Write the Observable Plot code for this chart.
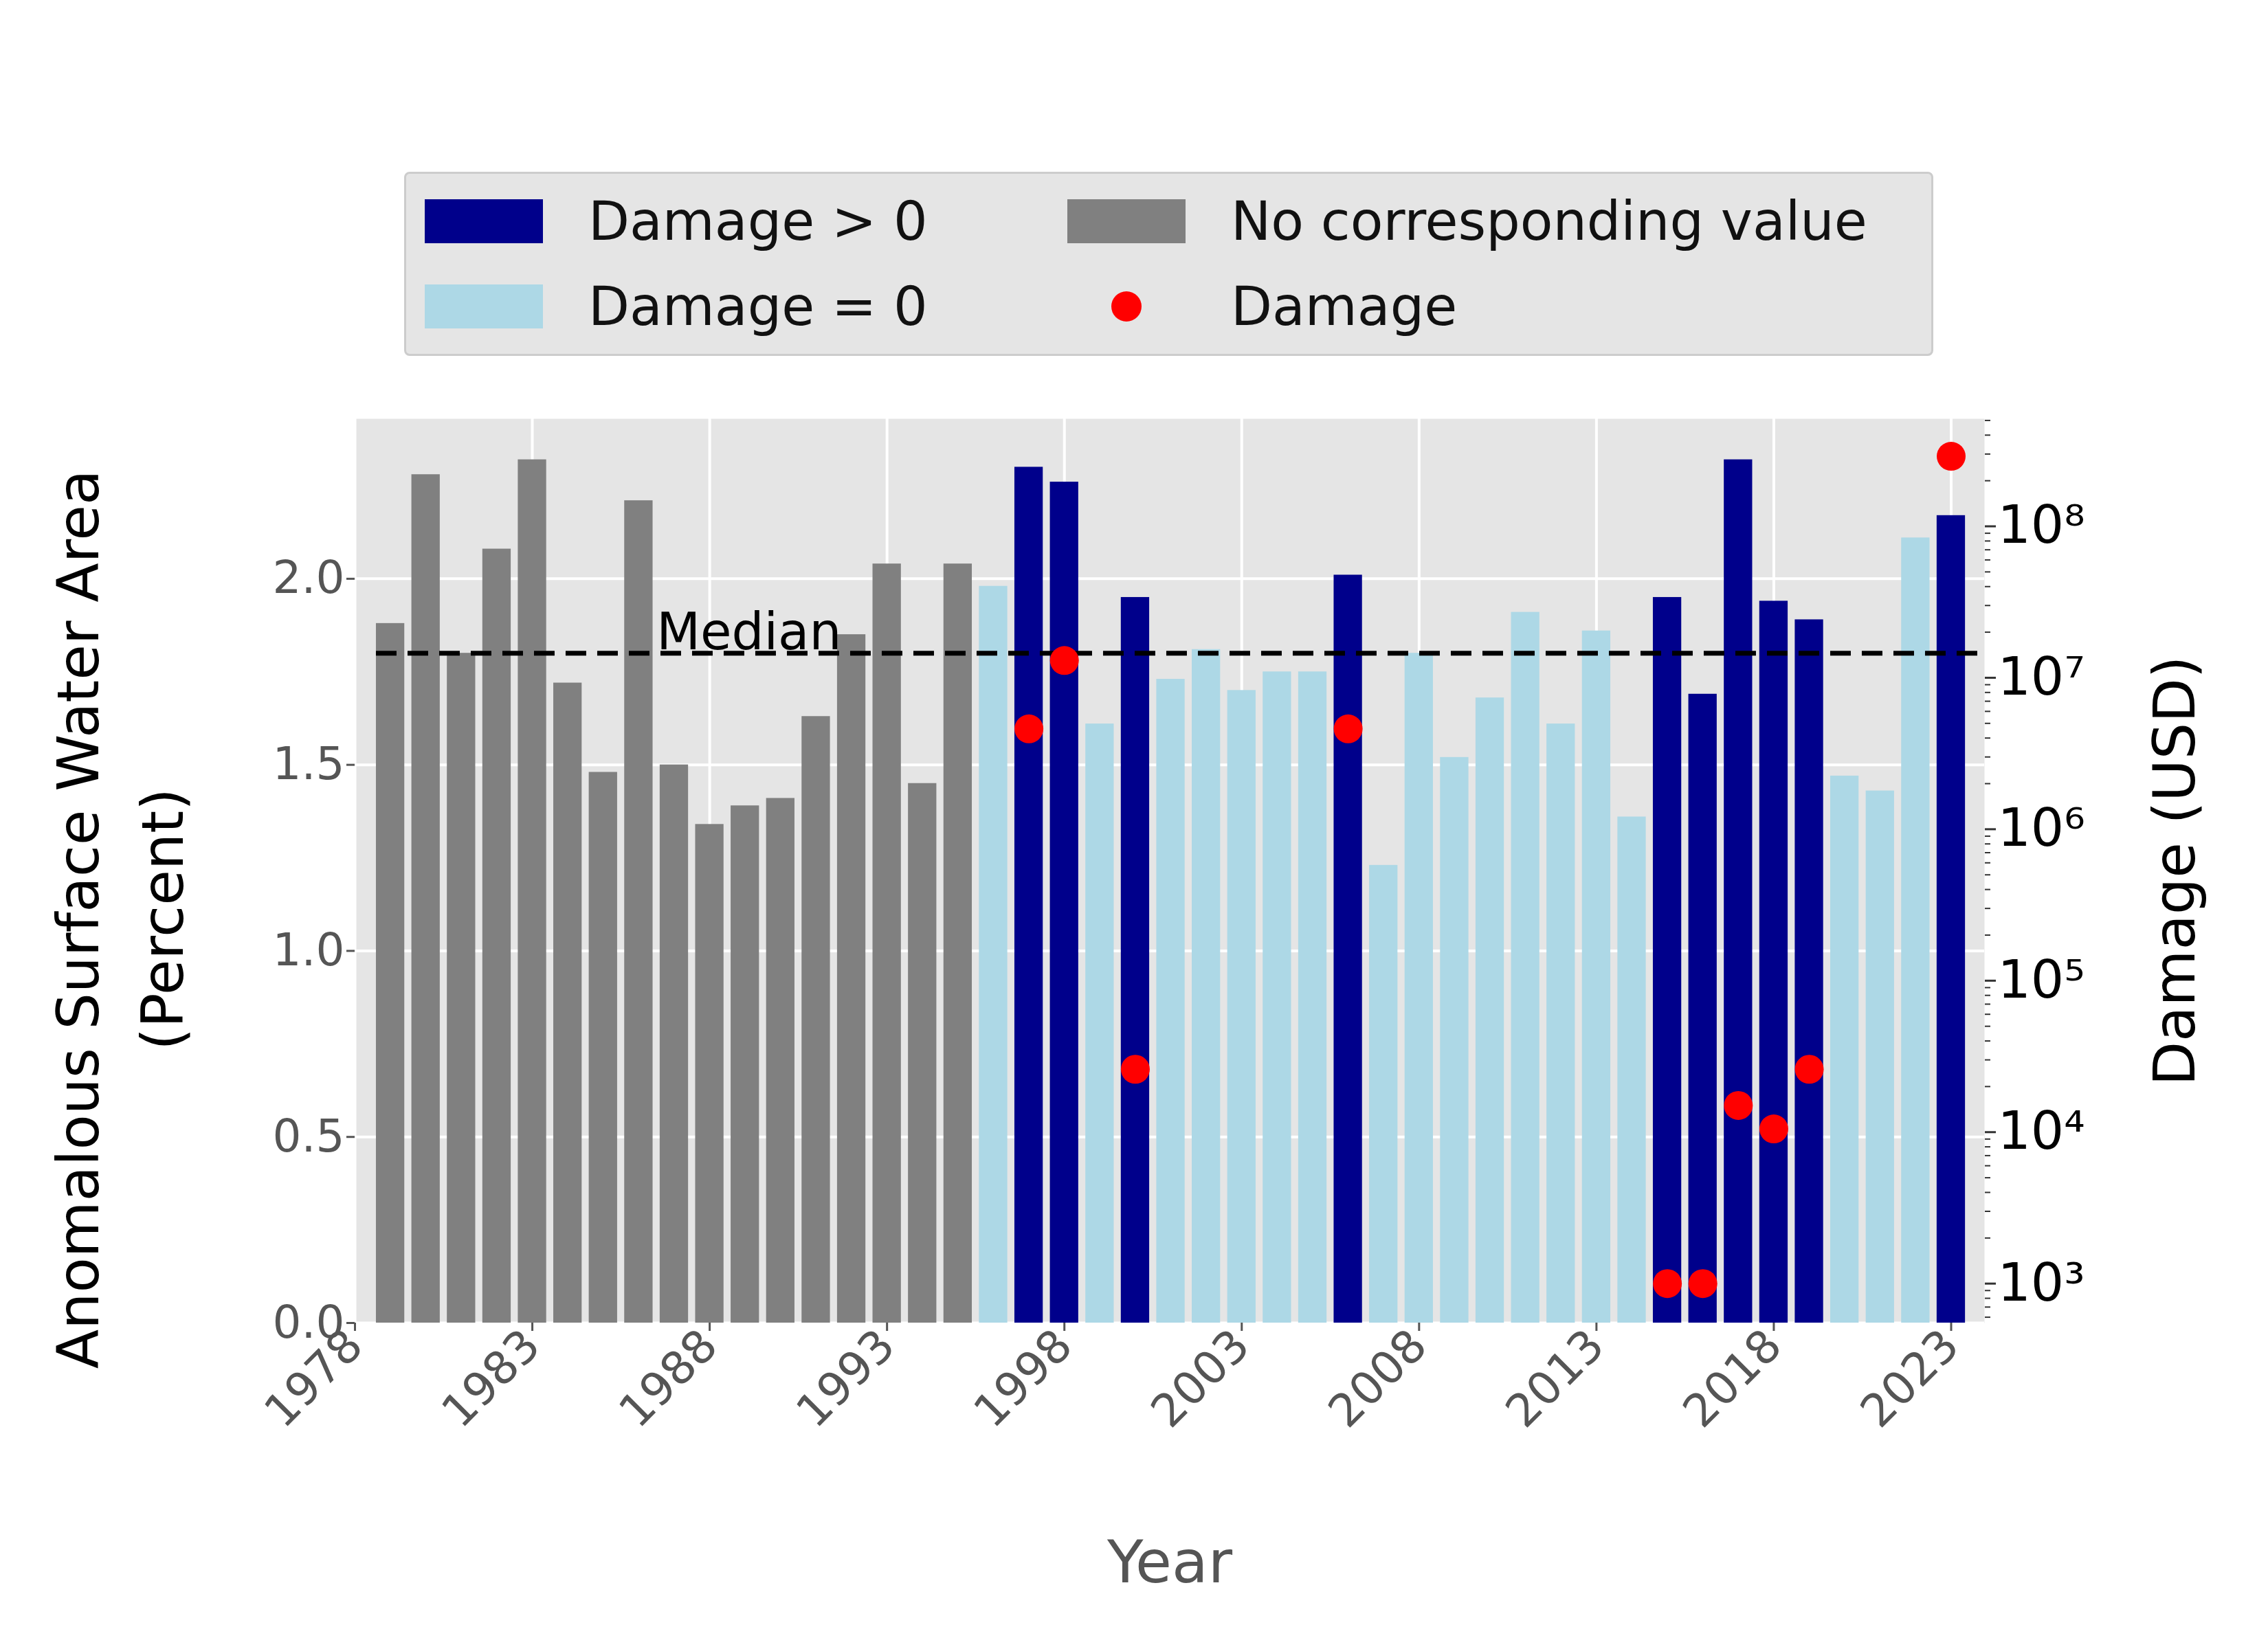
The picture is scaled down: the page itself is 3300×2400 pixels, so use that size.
<!DOCTYPE html>
<html>
<head>
<meta charset="utf-8">
<script src="https://cdn.jsdelivr.net/npm/d3@7"></script>
<script src="https://cdn.jsdelivr.net/npm/@observablehq/plot@0.6"></script>
<style>
  body { margin: 0; background: white; font-family: "DejaVu Sans", sans-serif; }
  #wrap { position: relative; width: 3300px; height: 2400px; }
  #legend { position: absolute; left: 588px; top: 250px; width: 2225px; height: 268px;
    background: #e5e5e5; border: 3px solid #cccccc; border-radius: 8px; box-sizing: border-box;
    font-size: 78px; color: #111; }
  .item { position: absolute; display: flex; align-items: center; }
  .sw { width: 172px; height: 64px; margin-right: 66px; }
  .dot { width: 44px; height: 44px; border-radius: 50%; background: red; margin: 0 130px 0 64px; }
</style>
</head>
<body>
<div id="wrap">
  <div id="legend">
    <div class="item" style="left:27px;top:24px"><div class="sw" style="background:#00008b"></div>Damage &gt; 0</div>
    <div class="item" style="left:27px;top:148px"><div class="sw" style="background:#add8e6"></div>Damage = 0</div>
    <div class="item" style="left:962px;top:24px"><div class="sw" style="background:#808080"></div>No corresponding value</div>
    <div class="item" style="left:962px;top:148px"><div class="dot"></div>Damage</div>
  </div>
  <div id="chart"></div>
</div>
<script>
const years = d3.range(1979, 2024);
const area = [1.88, 2.28, 1.80, 2.08, 2.32, 1.72, 1.48, 2.21, 1.50, 1.34, 1.39, 1.41, 1.63, 1.85, 2.04, 1.45, 2.04,
  1.98, 2.30, 2.26, 1.61, 1.95, 1.73, 1.81, 1.70, 1.75, 1.75, 2.01, 1.23, 1.80, 1.52, 1.68, 1.91, 1.61, 1.86, 1.36,
  1.95, 1.69, 2.32, 1.94, 1.89, 1.47, 1.43, 2.11, 2.17];
// "none" = no damage record, "zero" = damage 0, "pos" = damage > 0
const status = [
  ...Array(17).fill("none"),
  "zero", "pos", "pos", "zero", "pos", "zero", "zero", "zero", "zero", "zero", "pos", "zero", "zero", "zero", "zero",
  "zero", "zero", "zero", "zero", "pos", "pos", "pos", "pos", "pos", "zero", "zero", "zero", "pos"];
const damageYears = [1997, 1998, 2000, 2006, 2015, 2016, 2017, 2018, 2019, 2023];
const damageUSD = [4.6e6, 1.3e7, 2.6e4, 4.6e6, 1e3, 1e3, 1.5e4, 1.05e4, 2.6e4, 2.9e8];
const median = 1.80;

const yMax = 2.43, logMin = 2.74, logMax = 8.71;
const toLeft = (d) => (Math.log10(d) - logMin) / (logMax - logMin) * yMax;
const colors = {none: "#808080", zero: "#add8e6", pos: "#00008b"};

const bars = years.map((y, i) => ({year: y, value: area[i], status: status[i]}));
const damage = damageYears.map((y, i) => ({year: y, d: damageUSD[i]}));
const majors = [1e3, 1e4, 1e5, 1e6, 1e7, 1e8];
const minors = [];
for (let k = 2; k <= 8; k++) for (let m = 2; m <= 9; m++) {
  const v = m * 10 ** k;
  if (Math.log10(v) >= logMin && Math.log10(v) <= logMax) minors.push(v);
}
const sup = {"3": "³", "4": "⁴", "5": "⁵", "6": "⁶", "7": "⁷", "8": "⁸"};
const pxPerYear = (3300 - 516 - 413) / 45.94;

const chart = Plot.plot({
  width: 3300,
  height: 2400,
  marginLeft: 516,
  marginRight: 413,
  marginTop: 609,
  marginBottom: 475,
  x: {domain: [1978, 2023.94]},
  y: {domain: [0, yMax]},
  style: {fontFamily: "DejaVu Sans", fontSize: 68, background: "transparent"},
  marks: [
    Plot.frame({fill: "#e5e5e5", stroke: null}),
    Plot.gridX({ticks: d3.range(1978, 2024, 5), stroke: "white", strokeOpacity: 1, strokeWidth: 4}),
    Plot.gridY({ticks: [0, 0.5, 1, 1.5, 2], stroke: "white", strokeOpacity: 1, strokeWidth: 4}),
    Plot.rectY(bars, {x1: d => d.year - 0.4, x2: d => d.year + 0.4, y: "value", fill: d => colors[d.status]}),
    Plot.ruleY([median], {stroke: "black", strokeWidth: 7, strokeDasharray: "30,16", x1: 1978.6, x2: 2023.94}),
    Plot.text(["Median"], {x: 1986.5, y: 1.81, text: d => d, textAnchor: "start", lineAnchor: "bottom", fontSize: 74, fill: "black"}),
    Plot.dot(damage, {x: "year", y: d => toLeft(d.d), r: 21, fill: "red"}),
    Plot.axisX({ticks: d3.range(1978, 2024, 5), tickFormat: d => String(d), tickRotate: -45, tickSize: 12,
      tickPadding: 10, stroke: "#555", strokeWidth: 3, color: "#555", fontSize: 66, label: null}),
    Plot.text(["Year"], {x: (1978 + 2023.94) / 2, y: 0, text: d => d, dy: 350, fontSize: 86, fill: "#555"}),
    Plot.axisY({ticks: [0, 0.5, 1, 1.5, 2], tickFormat: d3.format(".1f"), tickSize: 12, strokeWidth: 3,
      color: "#555", fontSize: 66, label: null}),
    Plot.text(["Anomalous Surface Water Area", "(Percent)"], {
      x: d => d === "(Percent)" ? 1978 - 277 / pxPerYear : 1978 - 400 / pxPerYear,
      y: yMax / 2 - 0.13, text: d => d, rotate: -90, fontSize: 84, fill: "black"}),
    Plot.axisY(majors.map(toLeft), {anchor: "right", tickSize: 16, strokeWidth: 3, stroke: "#333",
      tickFormat: v => { const e = Math.round(v / yMax * (logMax - logMin) + logMin); return "10" + sup[e]; },
      color: "black", fontSize: 76, label: null}),
    Plot.axisY(minors.map(toLeft), {anchor: "right", tickSize: 8, strokeWidth: 2, stroke: "#333",
      tickFormat: () => "", label: null}),
    Plot.text(["Damage (USD)"], {x: 2023.94 + 279 / pxPerYear, y: yMax / 2, text: d => d, rotate: -90, fontSize: 84, fill: "black"})
  ]
});
document.getElementById("chart").append(chart);
</script>
</body>
</html>
